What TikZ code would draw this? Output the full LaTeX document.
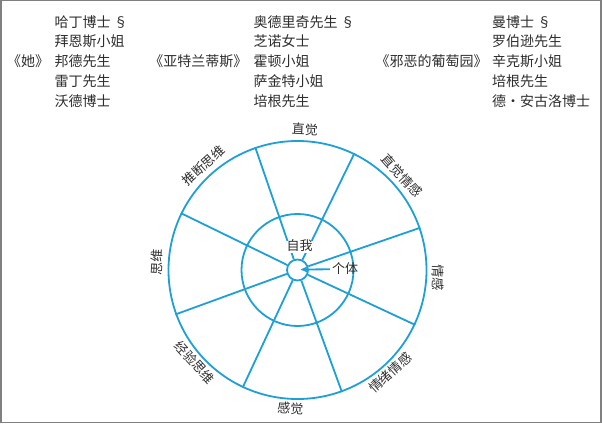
\documentclass[tikz,border=0pt]{standalone}
\usepackage{fontspec}
\newfontfamily\cjk{Noto Sans CJK SC}
\usetikzlibrary{arrows.meta,calc}
\definecolor{wheel}{RGB}{30,160,215}
\definecolor{ink}{RGB}{45,45,45}
\definecolor{framegray}{RGB}{128,128,128}
\tikzset{
  txt/.style={font=\cjk\fontsize{14}{14}\selectfont, text=ink, inner sep=0pt, text height=0.82em, text depth=0.06em},
  namebox/.style={txt, anchor=west},
  ring/.style={font=\cjk\fontsize{13}{13}\selectfont, text=ink, inner sep=0pt, text height=0.82em, text depth=0.06em},
  wheelline/.style={draw=wheel, line width=1.8pt},
  wheelcirc/.style={circle, draw=wheel, line width=1.8pt, inner sep=0pt}}
\begin{document}
\begin{tikzpicture}[x=1pt,y=1pt]
\useasboundingbox (0,0) rectangle (602,424);
\draw[framegray, line width=1.5pt] (0.75,1.3) rectangle (600.8,423.3);
% book titles
\node[txt] (b1) at (28,361.3) {《她》};
\node[txt] (b2) at (198.3,361.3) {《亚特兰蒂斯》};
\node[txt] (b3) at (431.7,361.3) {《邪恶的葡萄园》};
% column 1
\node[namebox] (a1) at (54.5,400.7) {哈丁博士 §};
\node[namebox] (a2) at (54.5,381.3) {拜恩斯小姐};
\node[namebox] (a3) at (54.5,361.3) {邦德先生};
\node[namebox] (a4) at (54.5,341.3) {雷丁先生};
\node[namebox] (a5) at (54.5,321.3) {沃德博士};
% column 2
\node[namebox] (c1) at (253.5,400.7) {奥德里奇先生 §};
\node[namebox] (c2) at (253.5,381.3) {芝诺女士};
\node[namebox] (c3) at (253.5,361.3) {霍顿小姐};
\node[namebox] (c4) at (253.5,341.3) {萨金特小姐};
\node[namebox] (c5) at (253.5,321.3) {培根先生};
% column 3
\node[namebox] (d1) at (492,400.7) {曼博士 §};
\node[namebox] (d2) at (492,381.3) {罗伯逊先生};
\node[namebox] (d3) at (492,361.3) {辛克斯小姐};
\node[namebox] (d4) at (492,341.3) {培根先生};
\node[namebox] (d5) at (492,321.3) {德\makebox[1em]{·}安古洛博士};
% wheel
\coordinate (O) at (297.5,154);
\node[wheelcirc, minimum size=258pt] (outer) at (O) {};
\node[wheelcirc, minimum size=112pt] (inner) at (O) {};
\node[wheelcirc, minimum size=21pt] (hub) at (O) {};
\foreach \a in {109.5,64.5,19.5,-25.5,-70.5,-115.5,-160.5,154.5}
  \draw[wheelline] (hub.\a) -- (outer.\a);
\foreach \a/\r/\t [count=\i] in {87/-3/直觉, 42/-48/直觉情感, -3/-93/情感, -48/42/情绪情感, -93/-3/感觉, -138/-48/经验思维, 177/87/思维, 132/42/推断思维}
  \node[ring, rotate=\r] (r\i) at ($(O)+(\a:139.5)$) {\t};
\node[ring, fill=white, inner sep=1.5pt] (self) at (299.5,177) {自我};
\node[ring, inner sep=2pt] (indiv) at (345,154.7) {个体};
\coordinate (tip) at (300.5,154.5);
\draw[draw=wheel, line width=1.8pt, -{Stealth[length=8pt,width=7pt]}] (indiv.west) -- (tip);
\end{tikzpicture}
\end{document}
